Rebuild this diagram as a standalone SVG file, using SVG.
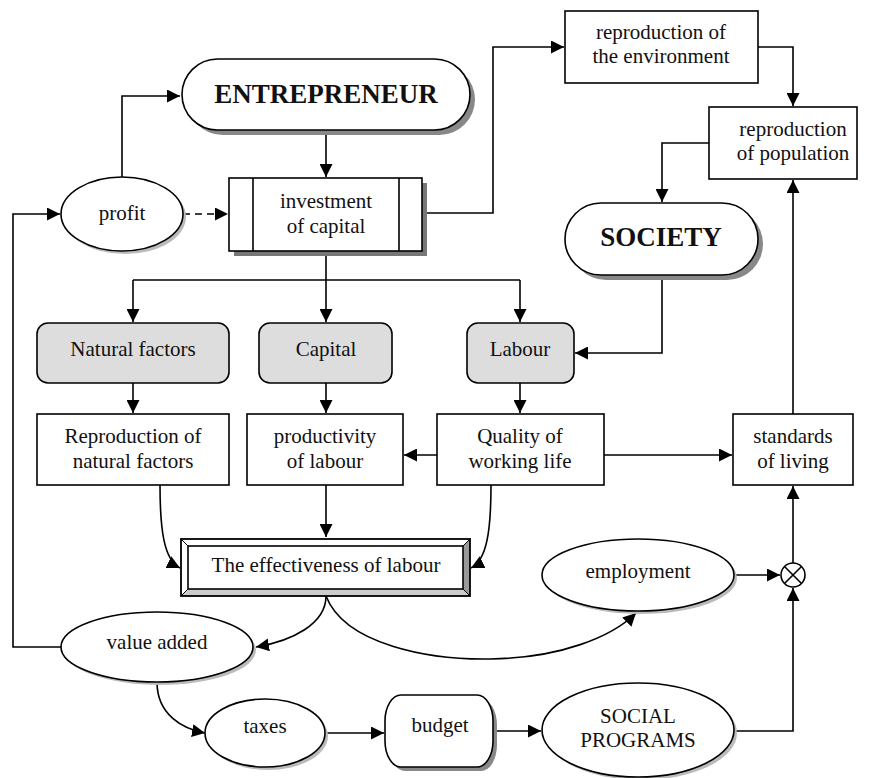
<svg xmlns="http://www.w3.org/2000/svg" width="869" height="778" viewBox="0 0 869 778">
<style>
text{font-family:"Liberation Serif","Times New Roman",serif;font-size:21px;fill:#111;text-anchor:middle}
.b{font-weight:bold;font-size:27px}
.s{fill:#fff;stroke:#000;stroke-width:1.6}
.g{fill:#ddd;stroke:#000;stroke-width:1.6}
.sh{fill:#bbb;stroke:none}
.dsh{fill:#888;stroke:none}
.c{fill:none;stroke:#000;stroke-width:1.6}
</style>
<defs>
<marker id="a" markerUnits="userSpaceOnUse" markerWidth="14" markerHeight="13" refX="13" refY="6.5" orient="auto">
<path d="M0,0 L13,6.5 L0,13 z" fill="#000"/>
</marker>
</defs>
<rect width="869" height="778" fill="#fff"/>

<g id="connectors">
<path class="c" d="M122,178 V96 H180" marker-end="url(#a)"/>
<path class="c" d="M183,214 H228" stroke-dasharray="7,5" marker-end="url(#a)"/>
<path class="c" d="M326,130 V177" marker-end="url(#a)"/>
<path class="c" d="M422,213 H493 V47 H564" marker-end="url(#a)"/>
<path class="c" d="M758,47 H793 V106" marker-end="url(#a)"/>
<path class="c" d="M709,143 H662 V202" marker-end="url(#a)"/>
<path class="c" d="M326,251 V280"/>
<path class="c" d="M133,280 H520"/>
<path class="c" d="M133,280 V322" marker-end="url(#a)"/>
<path class="c" d="M326,280 V322" marker-end="url(#a)"/>
<path class="c" d="M520,280 V322" marker-end="url(#a)"/>
<path class="c" d="M662,275 V353 H575" marker-end="url(#a)"/>
<path class="c" d="M133,383 V413" marker-end="url(#a)"/>
<path class="c" d="M326,383 V413" marker-end="url(#a)"/>
<path class="c" d="M520,383 V413" marker-end="url(#a)"/>
<path class="c" d="M437,455 H404" marker-end="url(#a)"/>
<path class="c" d="M604,455 H732" marker-end="url(#a)"/>
<path class="c" d="M793,414 V180" marker-end="url(#a)"/>
<path class="c" d="M326,485 V537" marker-end="url(#a)"/>
<path class="c" d="M160,485 C160,530 164,560 180,568" marker-end="url(#a)"/>
<path class="c" d="M491,485 C491,530 487,560 471,568" marker-end="url(#a)"/>
<path class="c" d="M326,596 C326,624 292,641 256,647" marker-end="url(#a)"/>
<path class="c" d="M326,596 C345,645 430,660 490,659 C560,658 612,637 636,613" marker-end="url(#a)"/>
<path class="c" d="M61,647 H13 V214 H60" marker-end="url(#a)"/>
<path class="c" d="M157,682 C157,715 183,729 205,733" marker-end="url(#a)"/>
<path class="c" d="M325,733 H384" marker-end="url(#a)"/>
<path class="c" d="M493,731 H541" marker-end="url(#a)"/>
<path class="c" d="M734,575 H780" marker-end="url(#a)"/>
<path class="c" d="M735,731 H793 V588" marker-end="url(#a)"/>
<path class="c" d="M793,563 V486" marker-end="url(#a)"/>
</g>

<g id="entrepreneur">
<rect class="dsh" x="187" y="64" width="288" height="71" rx="35.5"/>
<rect class="s" x="182" y="59" width="288" height="71" rx="35.5"/>
<text class="b" x="326" y="103">ENTREPRENEUR</text>
</g>

<g id="profit">
<ellipse class="sh" cx="125" cy="217" rx="61" ry="37"/>
<ellipse class="s" cx="122" cy="214" rx="61" ry="37"/>
<text x="122" y="220">profit</text>
</g>

<g id="investment">
<rect x="234" y="183" width="193" height="73" fill="#777"/>
<rect class="s" x="229" y="178" width="193" height="73"/>
<path class="c" d="M253,178 V251 M399,178 V251"/>
<text x="326" y="208">investment</text>
<text x="326" y="233">of capital</text>
</g>

<g id="environment">
<rect class="s" x="565" y="11" width="193" height="72"/>
<text x="661" y="39">reproduction of</text>
<text x="661" y="63">the environment</text>
</g>

<g id="population">
<rect class="s" x="709" y="107" width="148" height="72"/>
<text x="793" y="136">reproduction</text>
<text x="793" y="160">of population</text>
</g>

<g id="society">
<rect class="dsh" x="570" y="208" width="193" height="72" rx="36"/>
<rect class="s" x="565" y="203" width="193" height="72" rx="36"/>
<text class="b" x="661" y="246">SOCIETY</text>
</g>

<g id="natural-factors">
<rect class="g" x="37" y="323" width="192" height="60" rx="11"/>
<text x="133" y="356">Natural factors</text>
</g>

<g id="capital">
<rect class="g" x="259" y="323" width="133" height="60" rx="11"/>
<text x="326" y="356">Capital</text>
</g>

<g id="labour">
<rect class="g" x="467" y="323" width="107" height="60" rx="11"/>
<text x="520" y="356">Labour</text>
</g>

<g id="reproduction-natural">
<rect class="s" x="37" y="414" width="192" height="71"/>
<text x="133" y="443">Reproduction of</text>
<text x="133" y="468">natural factors</text>
</g>

<g id="productivity">
<rect class="s" x="247" y="414" width="156" height="71"/>
<text x="325" y="443">productivity</text>
<text x="325" y="468">of labour</text>
</g>

<g id="quality">
<rect class="s" x="437" y="414" width="167" height="71"/>
<text x="520" y="443">Quality of</text>
<text x="520" y="468">working life</text>
</g>

<g id="standards">
<rect class="s" x="733" y="414" width="120" height="71"/>
<text x="793" y="443">standards</text>
<text x="793" y="468">of living</text>
</g>

<g id="effectiveness">
<rect x="181" y="539" width="289" height="57" fill="#fff" stroke="none"/>
<polygon points="463,546 470,539 470,596 463,589" fill="#999"/>
<polygon points="188,589 463,589 470,596 181,596" fill="#ccc"/>
<rect x="181" y="539" width="289" height="57" fill="none" stroke="#000" stroke-width="1.8"/>
<rect x="188" y="546" width="275" height="43" fill="none" stroke="#000" stroke-width="1.6"/>
<path d="M181,539 L188,546 M470,539 L463,546 M181,596 L188,589 M470,596 L463,589" stroke="#000" stroke-width="1"/>
<text x="326" y="572">The effectiveness of labour</text>
</g>

<g id="employment">
<ellipse class="sh" cx="641" cy="578" rx="96" ry="36"/>
<ellipse class="s" cx="638" cy="575" rx="96" ry="36"/>
<text x="638" y="578">employment</text>
</g>

<g id="multiplier">
<circle class="s" cx="793" cy="575" r="12"/>
<path class="c" d="M784.5,566.5 L801.5,583.5 M801.5,566.5 L784.5,583.5"/>
</g>

<g id="value-added">
<ellipse class="sh" cx="160" cy="650" rx="96" ry="35"/>
<ellipse class="s" cx="157" cy="647" rx="96" ry="35"/>
<text x="157" y="649">value added</text>
</g>

<g id="taxes">
<ellipse class="sh" cx="268" cy="736" rx="60" ry="34"/>
<ellipse class="s" cx="265" cy="733" rx="60" ry="34"/>
<text x="265" y="733">taxes</text>
</g>

<g id="budget">
<rect class="dsh" x="389" y="699" width="108" height="72" rx="16" ry="26"/>
<rect class="s" x="385" y="695" width="108" height="72" rx="16" ry="26"/>
<text x="440" y="732">budget</text>
</g>

<g id="social-programs">
<ellipse class="sh" cx="641" cy="733" rx="96" ry="47"/>
<ellipse class="s" cx="638" cy="730" rx="96" ry="47"/>
<text x="638" y="723">SOCIAL</text>
<text x="638" y="747">PROGRAMS</text>
</g>
</svg>
